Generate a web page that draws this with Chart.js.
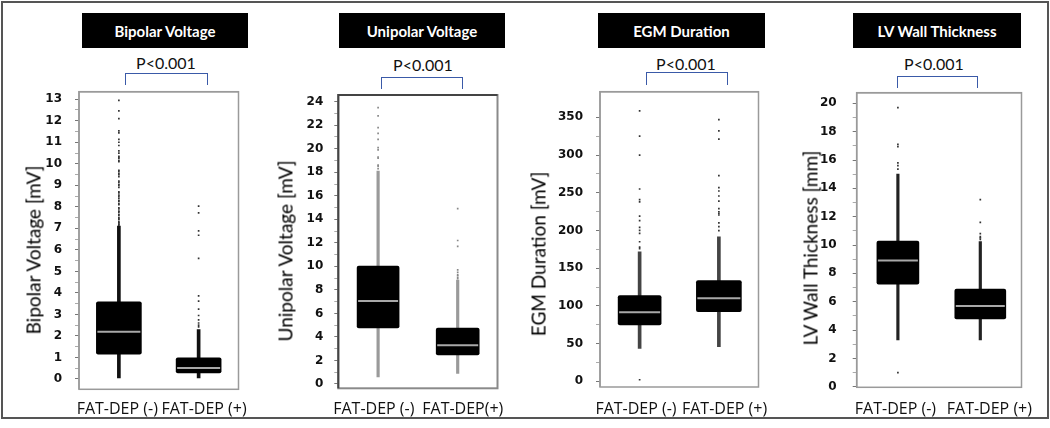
<!DOCTYPE html>
<html><head><meta charset="utf-8">
<script src="https://cdn.jsdelivr.net/npm/chart.js@4.4.1/dist/chart.umd.min.js"></script>
<style>
html,body{margin:0;padding:0;background:#fff;width:1050px;height:428px;overflow:hidden;}
#wrap{position:relative;width:1050px;height:428px;}
.outer{position:absolute;left:1px;top:1px;width:1044px;height:414px;border:2px solid #555;}
canvas{position:absolute;top:0;}
.tbox{position:absolute;background:#000;color:#fff;font:bold 15px Lato,'Liberation Sans',sans-serif;display:flex;align-items:center;justify-content:center;}
.pval{position:absolute;font:16px Lato,sans-serif;color:#111;transform:translate(-50%,-50%);white-space:nowrap;}
.brk{position:absolute;border:1.5px solid #3a5aa8;border-bottom:none;box-sizing:border-box;}
.ytitle{position:absolute;left:0;top:0;font:19px Lato,sans-serif;color:#000;white-space:nowrap;}
</style></head>
<body><div id="wrap"><div class="outer"></div></div>
<script>
// ---------------- DATA ----------------
const categories = ['FAT-DEP (-)', 'FAT-DEP (+)'];
const categoriesUnipolar = ['FAT-DEP (-)', 'FAT-DEP(+)'];
const panelTitles = ['Bipolar Voltage', 'Unipolar Voltage', 'EGM Duration', 'LV Wall Thickness'];
const axisTitles = ['Bipolar Voltage [mV]', 'Unipolar Voltage [mV]', 'EGM Duration  [mV]', 'LV Wall Thickness  [mm]'];
const pValueText = 'P<0.001';

const bipolarTicks = [0,1,2,3,4,5,6,7,8,9,10,11,12,13];
const bipolarWhiskers = [[0.05, 7.1], [0.05, 2.3]];
const bipolarQuartiles = [[1.15, 3.58], [0.28, 0.98]];
const bipolarMedians = [2.2, 0.51];
const bipolarOutliersNeg = [12.95,12.46,12.1,11.53,11.44,11.13,11.0,10.85,10.6,10.5,10.35,10.3,10.25,10.15,10.1,9.7,9.65,9.55,9.5,9.4,9.2,9.15,9.05,9.0,8.9,8.7,8.65,8.55,8.5,8.4,8.3,8.25,8.15,8.1,7.95,7.9,7.8,7.75,7.65,7.6,7.5,7.45,7.4,7.3,7.25,7.2,7.15];
const bipolarOutliersPos = [8.03,7.72,6.88,6.68,5.6,3.86,3.62,3.25,2.95,2.75,2.6,2.5,2.42];

const unipolarTicks = [0,2,4,6,8,10,12,14,16,18,20,22,24];
const unipolarWhiskers = [[0.6, 18.1], [0.9, 8.84]];
const unipolarQuartiles = [[4.76, 10.03], [2.47, 4.76]];
const unipolarMedians = [7.06, 3.3];
const unipolarOutliersNeg = [23.5,22.8,21.8,21.3,20.8,20.1,19.9,19.3,19.2,18.6,18.5,18.3];
const unipolarOutliersPos = [14.9,12.2,11.7,9.7,9.5,9.3,9.2,9.05,8.95];

const egmTicks = [0,50,100,150,200,250,300,350];
const egmWhiskers = [[43.7, 171.8], [45.9, 191.7]];
const egmQuartiles = [[74.6, 113.5], [92.3, 133.4]];
const egmMedians = [91.5, 110];
const egmOutliersNeg = [358.7,325,300,255,241,238,219,213,204,200,196,185,178,176,2];
const egmOutliersPos = [347,332,321,272.6,256.7,252.3,245.7,239,229,224.8,222.7,220.5,210,205,199.7];

const lvTicks = [0,2,4,6,8,10,12,14,16,18,20];
const lvWhiskers = [[3.3, 15.0], [3.3, 10.25]];
const lvQuartiles = [[7.23, 10.28], [4.78, 6.9]];
const lvMedians = [8.9, 5.7];
const lvOutliersNeg = [19.7,17.1,16.95,15.8,15.6,15.35,1.0];
const lvOutliersPos = [13.2,11.6,10.8,10.6,10.5,10.4];

// ---------------- LAYOUT / STYLE ----------------
const panels = [
  {labels: categories, ticks: bipolarTicks, whiskers: bipolarWhiskers, quart: bipolarQuartiles, med: bipolarMedians, outN: bipolarOutliersNeg, outP: bipolarOutliersPos,
   cl: 0, cw: 262, f: {l: 79, t: 91.7, r: 255.7, b: 389.3}, min: -0.48, max: 13.35, minor: 0.5, labelPos: [0.240, 0.784],
   boxW: [45, 45], whiskerColor: '#111', whiskerW: 3, ptColor: '#333', frameColor: '#9a9a9a', topColor: '#9a9a9a', frameW: 1.5, tickGap: 13, xPad: 3,
   titleBox: {l: 82, t: 13, w: 166, h: 35}, pv: {x: 166, y: 62}, br: {l: 125, r: 208, t: 72.5, b: 85}, yt: {x: 33, y: 250}},
  {labels: categoriesUnipolar, ticks: unipolarTicks, whiskers: unipolarWhiskers, quart: unipolarQuartiles, med: unipolarMedians, outN: unipolarOutliersNeg, outP: unipolarOutliersPos,
   cl: 262, cw: 258, f: {l: 338.3, t: 95, r: 507.3, b: 388.3}, min: -0.37, max: 24.57, minor: 1, labelPos: [0.223, 0.782],
   boxW: [42, 43], whiskerColor: '#9a9a9a', whiskerW: 2.5, ptColor: '#888', frameColor: '#8a8a8a', topColor: '#444', frameW: 2, tickGap: 11, xPad: 4,
   titleBox: {l: 339, t: 13, w: 166, h: 35}, pv: {x: 423, y: 64}, br: {l: 381, r: 463, t: 77, b: 88.5}, yt: {x: 285, y: 251}},
  {labels: categories, ticks: egmTicks, whiskers: egmWhiskers, quart: egmQuartiles, med: egmMedians, outN: egmOutliersNeg, outP: egmOutliersPos,
   cl: 520, cw: 262, f: {l: 600, t: 91.7, r: 771.7, b: 387}, min: -7.6, max: 384, minor: 25, labelPos: [0.227, 0.786],
   boxW: [43, 45], whiskerColor: '#444', whiskerW: 3, ptColor: '#333', frameColor: '#9a9a9a', topColor: '#9a9a9a', frameW: 1.5, tickGap: 13, xPad: 5,
   titleBox: {l: 598, t: 13, w: 167, h: 35}, pv: {x: 686, y: 63}, br: {l: 646, r: 728, t: 72, b: 85}, yt: {x: 538, y: 254}},
  {labels: categories, ticks: lvTicks, whiskers: lvWhiskers, quart: lvQuartiles, med: lvMedians, outN: lvOutliersNeg, outP: lvOutliersPos,
   cl: 782, cw: 266, f: {l: 856.7, t: 92.7, r: 1022.3, b: 387.3}, min: -0.04, max: 20.75, minor: 1, labelPos: [0.235, 0.805],
   boxW: [42, 51], whiskerColor: '#222', whiskerW: 2.5, ptColor: '#333', frameColor: '#9a9a9a', topColor: '#9a9a9a', frameW: 1.5, tickGap: 16, xPad: 5,
   titleBox: {l: 853, t: 13, w: 168, h: 35}, pv: {x: 934, y: 63}, br: {l: 897, r: 978, t: 75.5, b: 87.5}, yt: {x: 810, y: 248}}
];

const framePlugin = {
  id: 'frameRect',
  beforeDatasetsDraw(chart, args, opts) {
    const {ctx, chartArea: a} = chart;
    ctx.save();
    ctx.strokeStyle = opts.color; ctx.lineWidth = opts.width;
    ctx.strokeRect(a.left, a.top, a.right - a.left, a.bottom - a.top);
    ctx.strokeStyle = opts.topColor;
    ctx.beginPath(); ctx.moveTo(a.left, a.bottom); ctx.lineTo(a.left, a.top); ctx.lineTo(a.right, a.top); ctx.stroke();
    ctx.restore();
  }
};

const wrap = document.getElementById('wrap');
panels.forEach((p, idx) => {
  const tb = document.createElement('div'); tb.className = 'tbox';
  Object.assign(tb.style, {left: p.titleBox.l + 'px', top: p.titleBox.t + 'px', width: p.titleBox.w + 'px', height: p.titleBox.h + 'px'});
  tb.textContent = panelTitles[idx]; wrap.appendChild(tb);
  const pv = document.createElement('div'); pv.className = 'pval';
  Object.assign(pv.style, {left: p.pv.x + 'px', top: p.pv.y + 'px'}); pv.textContent = pValueText; wrap.appendChild(pv);
  const br = document.createElement('div'); br.className = 'brk';
  Object.assign(br.style, {left: p.br.l + 'px', top: p.br.t + 'px', width: (p.br.r - p.br.l) + 'px', height: (p.br.b - p.br.t) + 'px'}); wrap.appendChild(br);

  const cv = document.createElement('canvas');
  cv.width = p.cw; cv.height = 428; cv.style.left = p.cl + 'px';
  wrap.appendChild(cv);

  const yt = document.createElement('div'); yt.className = 'ytitle'; yt.textContent = axisTitles[idx];
  wrap.appendChild(yt);
  yt.style.transform = 'translate(' + p.yt.x + 'px,' + p.yt.y + 'px) translate(-50%,-50%) rotate(-90deg)';

  const labels = p.labels;
  const majorSet = new Set(p.ticks);
  const allTicks = [];
  for (let i = 0; i < p.ticks.length; i++) {
    allTicks.push(p.ticks[i]);
    if (i < p.ticks.length - 1) {
      for (let v = p.ticks[i] + p.minor; v < p.ticks[i + 1] - 1e-9; v += p.minor) allTicks.push(+v.toFixed(6));
    }
  }
  const boxSets = labels.map((c, k) => ({
    type: 'bar', order: 1, grouped: false,
    data: labels.map((_, i) => i === k ? p.quart[k] : null),
    backgroundColor: '#000', barThickness: p.boxW[k], borderRadius: 2, borderSkipped: false
  }));
  const datasets = [
    {type: 'line', order: 0, showLine: false,
     data: labels.map((c, i) => ({x: c, y: p.med[i]})),
     pointStyle: 'line', pointRadius: p.boxW.map(w => w / 2 - 1), pointBorderColor: '#a8a8a8', pointBorderWidth: 2, pointHoverRadius: 0},
    ...boxSets,
    {type: 'bar', order: 2, grouped: false, data: p.whiskers, backgroundColor: p.whiskerColor, barThickness: p.whiskerW},
    {type: 'line', order: 3, showLine: false,
     data: p.outN.map(v => ({x: labels[0], y: v})).concat(p.outP.map(v => ({x: labels[1], y: v}))),
     pointStyle: 'rect', pointRadius: 1.2, pointBackgroundColor: p.ptColor, pointBorderWidth: 0}
  ];

  new Chart(cv, {
    type: 'bar',
    data: {labels: labels, datasets: datasets},
    plugins: [framePlugin],
    options: {
      responsive: false, animation: false, devicePixelRatio: 1,
      layout: {padding: {top: p.f.t, right: p.cl + p.cw - p.f.r, left: 0, bottom: 0}},
      plugins: {legend: {display: false}, tooltip: {enabled: false},
                frameRect: {color: p.frameColor, topColor: p.topColor, width: p.frameW}},
      scales: {
        x: {type: 'category', offset: true, display: false},
        xl: {
          type: 'linear', position: 'bottom', min: 0, max: 1, offset: false,
          grid: {display: false, offset: false}, border: {display: false},
          afterBuildTicks: s => { s.ticks = p.labelPos.map(v => ({value: v})); },
          ticks: {autoSkip: false, maxRotation: 0, minRotation: 0, padding: p.xPad, color: '#111',
                  font: {family: "'Open Sans'", size: 16}, callback: (v, i) => labels[i]},
          afterFit: s => { s.height = 428 - p.f.b; }
        },
        y: {
          type: 'linear', min: p.min, max: p.max, offset: false,
          grid: {drawOnChartArea: false, drawTicks: true, tickLength: 4,
                 color: ctx => (ctx.tick && majorSet.has(ctx.tick.value)) ? '#777' : '#aaa'},
          border: {display: false},
          afterBuildTicks: s => { s.ticks = allTicks.map(v => ({value: v})); },
          afterFit: s => { s.width = p.f.l - p.cl; },
          ticks: {autoSkip: false, padding: p.tickGap, color: '#111',
                  font: {family: "'DejaVu Sans'", size: 12, weight: 'bold'},
                  callback: v => majorSet.has(v) ? String(v) : ''}
        }
      }
    }
  });
});
</script>
</body></html>
